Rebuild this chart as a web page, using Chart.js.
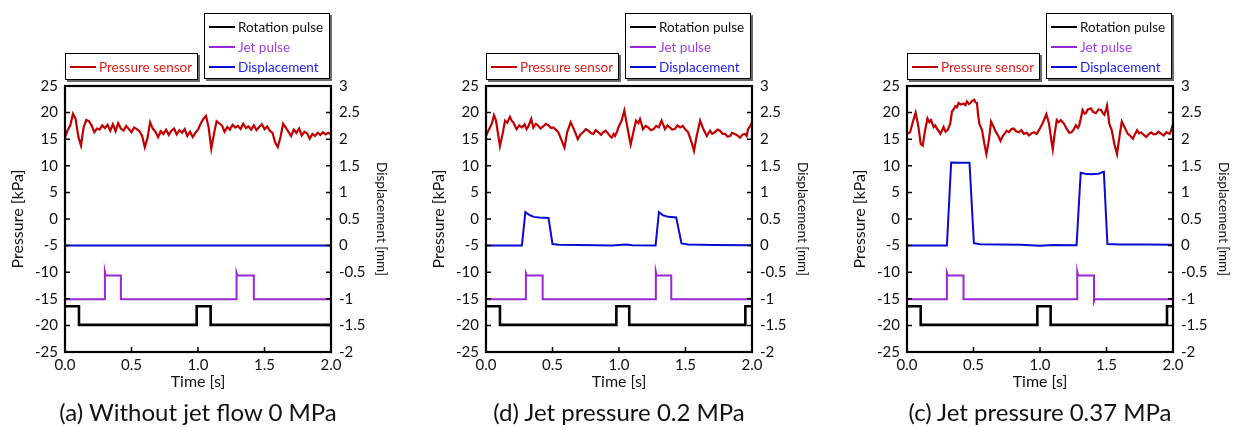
<!DOCTYPE html>
<html>
<head>
<meta charset="utf-8">
<script src="https://cdn.jsdelivr.net/npm/chart.js@4.4.1/dist/chart.umd.min.js"></script>
<style>
body { margin: 0; width: 1234px; height: 428px; overflow: hidden; background: #fff; font-family: Lato, sans-serif; position: relative; }
.panel { position: absolute; top: 0; width: 411px; height: 428px; }
.panel canvas { position: absolute; left: 0; top: 0; }
.lg { position: absolute; box-sizing: border-box; border: 1.5px solid #000; background: #fff; box-shadow: 2px 2px 0 #6a6a6a; font-size: 13.5px; }
.row { position: absolute; left: 0; height: 20px; line-height: 20px; white-space: nowrap; }
.row i { position: absolute; left: 4px; top: 9px; width: 26px; height: 2px; }
.row span { position: absolute; left: 33px; }
.cap { position: absolute; top: 397px; left: 18px; width: 360px; text-align: center; font-size: 24px; line-height: 29px; color: #111; white-space: nowrap; }
</style>
</head>
<body>

<div class="panel" style="left:0px">
  <canvas id="cA" width="411" height="428"></canvas>
  <div class="lg" style="left:65px;top:53px;width:133px;height:27px">
    <div class="row" style="top:2.5px"><i style="background:#c00000"></i><span style="color:#dd1c1c">Pressure sensor</span></div>
  </div>
  <div class="lg" style="left:204px;top:13px;width:126px;height:66px">
    <div class="row" style="top:2.5px"><i style="background:#000"></i><span style="color:#111">Rotation pulse</span></div>
    <div class="row" style="top:22.5px"><i style="background:#9b26d6"></i><span style="color:#a43ee0">Jet pulse</span></div>
    <div class="row" style="top:42.5px"><i style="background:#0a0ad2"></i><span style="color:#1e1ee8">Displacement</span></div>
  </div>
  <div class="cap">(a) Without jet flow 0 MPa</div>
</div>

<div class="panel" style="left:421px">
  <canvas id="cB" width="411" height="428"></canvas>
  <div class="lg" style="left:65px;top:53px;width:133px;height:27px">
    <div class="row" style="top:2.5px"><i style="background:#c00000"></i><span style="color:#dd1c1c">Pressure sensor</span></div>
  </div>
  <div class="lg" style="left:204px;top:13px;width:126px;height:66px">
    <div class="row" style="top:2.5px"><i style="background:#000"></i><span style="color:#111">Rotation pulse</span></div>
    <div class="row" style="top:22.5px"><i style="background:#9b26d6"></i><span style="color:#a43ee0">Jet pulse</span></div>
    <div class="row" style="top:42.5px"><i style="background:#0a0ad2"></i><span style="color:#1e1ee8">Displacement</span></div>
  </div>
  <div class="cap">(d) Jet pressure 0.2 MPa</div>
</div>

<div class="panel" style="left:842px">
  <canvas id="cC" width="411" height="428"></canvas>
  <div class="lg" style="left:65px;top:53px;width:133px;height:27px">
    <div class="row" style="top:2.5px"><i style="background:#c00000"></i><span style="color:#dd1c1c">Pressure sensor</span></div>
  </div>
  <div class="lg" style="left:204px;top:13px;width:126px;height:66px">
    <div class="row" style="top:2.5px"><i style="background:#000"></i><span style="color:#111">Rotation pulse</span></div>
    <div class="row" style="top:22.5px"><i style="background:#9b26d6"></i><span style="color:#a43ee0">Jet pulse</span></div>
    <div class="row" style="top:42.5px"><i style="background:#0a0ad2"></i><span style="color:#1e1ee8">Displacement</span></div>
  </div>
  <div class="cap">(c) Jet pressure 0.37 MPa</div>
</div>

<script>
// axis ranges / ticks
const timeTicks = [0, 0.5, 1.0, 1.5, 2.0];
const pressureTicks = [-25, -20, -15, -10, -5, 0, 5, 10, 15, 20, 25];
const dispTicks = [-2, -1.5, -1, -0.5, 0, 0.5, 1, 1.5, 2, 2.5, 3];

// pressure sensor [time s, kPa]
const pressureA = [[0,15.3],[0.02,16.7],[0.04,17.6],[0.06,19.8],[0.08,18.8],[0.10,15.5],[0.12,13.8],[0.14,17.2],[0.16,18.6],[0.18,18.4],[0.20,17.6],[0.22,16.3],[0.24,17.0],[0.26,16.8],[0.28,17.6],[0.30,17.1],[0.32,17.7],[0.34,16.6],[0.36,17.8],[0.38,16.5],[0.40,18.0],[0.42,17.0],[0.44,16.6],[0.46,17.5],[0.48,16.9],[0.50,16.3],[0.52,17.2],[0.54,16.9],[0.56,16.5],[0.58,15.6],[0.60,13.5],[0.62,15.2],[0.64,18.2],[0.66,17.0],[0.68,16.4],[0.70,15.4],[0.72,16.5],[0.74,16.0],[0.76,16.8],[0.78,15.8],[0.80,16.6],[0.82,17.0],[0.84,15.9],[0.86,16.7],[0.88,16.2],[0.90,16.9],[0.92,15.6],[0.94,16.4],[0.96,15.4],[0.98,16.2],[1.00,16.8],[1.02,17.9],[1.04,18.8],[1.06,19.4],[1.08,17.2],[1.10,13.2],[1.12,16.0],[1.14,18.4],[1.16,18.0],[1.18,17.6],[1.20,16.4],[1.22,17.3],[1.24,16.8],[1.26,17.7],[1.28,17.2],[1.30,17.5],[1.32,16.9],[1.34,17.9],[1.36,17.1],[1.38,17.4],[1.40,16.8],[1.42,17.6],[1.44,16.7],[1.46,17.3],[1.48,17.8],[1.50,16.9],[1.52,17.4],[1.54,16.6],[1.56,16.2],[1.58,14.4],[1.60,13.5],[1.62,15.4],[1.64,17.9],[1.66,17.2],[1.68,16.4],[1.70,15.6],[1.72,16.8],[1.74,16.2],[1.76,17.0],[1.78,15.7],[1.80,16.4],[1.82,16.1],[1.84,15.1],[1.86,16.0],[1.88,15.6],[1.90,16.2],[1.92,15.8],[1.94,16.3],[1.96,15.9],[1.98,16.2],[2.00,15.9]];
const pressureB = [[0,15.6],[0.015,16.5],[0.03,17.2],[0.045,18.0],[0.06,19.5],[0.075,18.5],[0.093,15.6],[0.105,13.7],[0.125,16.0],[0.143,18.5],[0.16,18.1],[0.18,19.2],[0.195,18.4],[0.205,18.2],[0.22,17.4],[0.23,16.9],[0.25,17.6],[0.27,17.2],[0.29,17.8],[0.305,16.9],[0.32,17.5],[0.34,18.8],[0.356,17.2],[0.375,17.9],[0.39,17.6],[0.41,17.0],[0.43,17.4],[0.45,17.9],[0.47,17.6],[0.49,17.1],[0.506,17.2],[0.525,16.8],[0.544,16.3],[0.57,14.7],[0.59,13.4],[0.61,16.3],[0.637,18.2],[0.66,16.9],[0.675,16.0],[0.69,15.0],[0.71,15.9],[0.73,16.3],[0.75,16.9],[0.77,16.6],[0.79,16.1],[0.807,16.0],[0.825,16.7],[0.845,16.3],[0.865,15.8],[0.88,16.3],[0.90,16.6],[0.92,16.0],[0.935,15.5],[0.945,15.3],[0.96,16.0],[0.97,15.6],[0.985,16.4],[0.995,17.2],[1.02,18.5],[1.04,20.4],[1.056,18.2],[1.075,15.6],[1.088,14.0],[1.108,16.3],[1.128,18.5],[1.145,18.0],[1.158,18.8],[1.17,17.8],[1.18,16.9],[1.20,17.5],[1.22,17.2],[1.24,16.7],[1.26,16.9],[1.28,17.5],[1.30,17.2],[1.32,18.5],[1.346,16.9],[1.365,17.6],[1.383,17.2],[1.40,16.8],[1.42,16.9],[1.44,17.6],[1.46,17.2],[1.48,17.5],[1.496,16.9],[1.52,16.3],[1.546,14.4],[1.564,12.8],[1.584,15.6],[1.61,18.5],[1.634,16.9],[1.66,15.6],[1.684,16.6],[1.70,16.0],[1.72,16.3],[1.74,16.8],[1.76,16.6],[1.78,16.0],[1.797,16.0],[1.815,15.5],[1.835,15.6],[1.85,16.2],[1.87,16.0],[1.89,15.7],[1.91,15.3],[1.93,15.9],[1.947,16.0],[1.96,15.6],[1.97,16.9],[1.985,17.4],[2.0,18.2]];
const pressureC = [[0,16.0],[0.023,16.3],[0.048,18.6],[0.065,20.0],[0.086,17.3],[0.103,14.1],[0.118,13.8],[0.136,16.7],[0.154,18.9],[0.168,18.2],[0.18,18.6],[0.2,17.3],[0.212,17.6],[0.224,17.0],[0.24,16.5],[0.25,16.0],[0.262,16.6],[0.275,17.3],[0.29,16.4],[0.305,16.7],[0.325,17.9],[0.338,20.2],[0.35,20.6],[0.363,21.2],[0.375,21.0],[0.388,21.8],[0.405,21.5],[0.426,21.7],[0.44,21.4],[0.45,22.1],[0.465,21.6],[0.476,21.8],[0.49,22.2],[0.506,22.4],[0.515,21.9],[0.526,21.8],[0.535,19.5],[0.544,17.9],[0.564,16.7],[0.582,14.1],[0.597,12.2],[0.615,14.7],[0.632,18.3],[0.652,17.3],[0.665,16.5],[0.678,16.0],[0.69,15.4],[0.703,14.7],[0.72,15.6],[0.733,16.0],[0.75,16.6],[0.766,16.3],[0.785,16.9],[0.803,17.0],[0.82,16.5],[0.841,16.3],[0.86,16.7],[0.879,16.0],[0.9,16.2],[0.917,15.7],[0.935,16.1],[0.955,16.3],[0.975,16.0],[0.992,16.7],[1.005,17.3],[1.018,17.9],[1.035,18.9],[1.048,19.7],[1.068,17.9],[1.086,14.7],[1.096,13.1],[1.11,16.0],[1.126,18.6],[1.14,18.2],[1.156,18.6],[1.181,17.9],[1.195,17.2],[1.207,16.7],[1.22,16.2],[1.237,16.3],[1.255,16.9],[1.27,17.6],[1.285,17.1],[1.295,17.6],[1.31,19.2],[1.32,20.5],[1.335,19.8],[1.345,19.9],[1.36,20.6],[1.383,20.8],[1.40,20.1],[1.42,19.9],[1.44,20.6],[1.458,20.5],[1.47,20.0],[1.484,19.6],[1.495,20.4],[1.504,21.3],[1.512,19.8],[1.521,17.9],[1.539,16.7],[1.559,14.1],[1.579,12.2],[1.597,15.4],[1.615,18.3],[1.635,17.3],[1.66,16.0],[1.68,15.6],[1.698,15.1],[1.715,16.0],[1.73,16.7],[1.745,16.1],[1.76,16.3],[1.78,15.8],[1.8,15.4],[1.82,16.0],[1.836,16.3],[1.855,15.9],[1.874,16.0],[1.89,16.4],[1.912,16.0],[1.93,15.7],[1.95,16.3],[1.975,16.0],[1.985,16.6],[2.0,17.9]];

// displacement [time s, mm]
const dispA = [[0,0],[0.5,0.003],[1.0,0],[1.5,0.002],[2.0,0]];
const dispB = [[0,0],[0.27,0],[0.296,0.63],[0.33,0.57],[0.36,0.54],[0.40,0.53],[0.47,0.52],[0.50,0.03],[0.55,0.015],[0.7,0.01],[0.95,0],[1.0,0.01],[1.05,0.02],[1.1,0.005],[1.275,0],[1.30,0.63],[1.33,0.57],[1.37,0.54],[1.43,0.53],[1.47,0.04],[1.52,0.02],[1.7,0.01],[2.0,0.005]];
const dispC = [[0,0],[0.30,0],[0.332,1.56],[0.40,1.555],[0.47,1.555],[0.503,0.044],[0.55,0.025],[0.7,0.02],[0.85,0.015],[1.0,-0.005],[1.1,0.01],[1.275,0.005],[1.306,1.37],[1.34,1.35],[1.38,1.34],[1.44,1.35],[1.48,1.39],[1.507,0.03],[1.6,0.02],[1.8,0.02],[2.0,0.015]];

// rotation pulse [time s, level on kPa axis]
const rotationA = [[0,-16.4],[0.105,-16.4],[0.105,-19.9],[0.99,-19.9],[0.99,-16.4],[1.095,-16.4],[1.095,-19.9],[2.0,-19.9]];
const rotationB = [[0,-16.4],[0.105,-16.4],[0.105,-19.9],[0.98,-19.9],[0.98,-16.4],[1.077,-16.4],[1.077,-19.9],[1.95,-19.9],[1.95,-16.4],[2.0,-16.4]];
const rotationC = [[0,-16.4],[0.103,-16.4],[0.103,-19.9],[0.98,-19.9],[0.98,-16.4],[1.08,-16.4],[1.08,-19.9],[1.955,-19.9],[1.955,-16.4],[2.0,-16.4]];

// jet pulse [time s, level on kPa axis]
const jetA = [[0,-15.1],[0.30,-15.1],[0.30,-9.9],[0.306,-10.6],[0.42,-10.6],[0.42,-15.1],[1.29,-15.1],[1.29,-10.1],[1.296,-10.6],[1.42,-10.6],[1.42,-15.1],[2.0,-15.1]];
const jetB = [[0,-15.1],[0.30,-15.1],[0.30,-10.2],[0.306,-10.6],[0.426,-10.6],[0.426,-15.1],[1.277,-15.1],[1.277,-9.9],[1.283,-10.6],[1.393,-10.6],[1.393,-15.1],[2.0,-15.1]];
const jetC = [[0,-15.1],[0.30,-15.1],[0.30,-10.1],[0.306,-10.6],[0.425,-10.6],[0.425,-15.1],[1.28,-15.1],[1.28,-9.9],[1.286,-10.6],[1.406,-10.6],[1.406,-15.5],[1.412,-15.1],[2.0,-15.1]];

const pts = arr => arr.map(p => ({ x: p[0], y: p[1] }));

// inward tick marks + plot frame
const frameTicks = {
  id: 'frameTicks',
  afterDatasetsDraw(chart) {
    const { ctx, chartArea: a, scales } = chart;
    ctx.save();
    ctx.strokeStyle = '#000';
    ctx.lineWidth = 1.5;
    ctx.beginPath();
    scales.y.ticks.forEach(t => { const py = scales.y.getPixelForValue(t.value); ctx.moveTo(a.left, py); ctx.lineTo(a.left + 5, py); });
    scales.y1.ticks.forEach(t => { const py = scales.y1.getPixelForValue(t.value); ctx.moveTo(a.right, py); ctx.lineTo(a.right - 5, py); });
    scales.x.ticks.forEach(t => { const px = scales.x.getPixelForValue(t.value); ctx.moveTo(px, a.bottom); ctx.lineTo(px, a.bottom - 5); });
    ctx.stroke();
    ctx.lineWidth = 2.2;
    ctx.strokeRect(a.left, a.top, a.right - a.left, a.bottom - a.top);
    ctx.restore();
  }
};

const tickFont = { family: 'Lato', size: 15 };
const noGrid = { display: false, drawTicks: false };

function makeChart(id, pressure, disp, rotation, jet) {
  return new Chart(document.getElementById(id).getContext('2d'), {
    type: 'line',
    data: {
      datasets: [
        { label: 'Rotation pulse', data: pts(rotation), borderColor: '#000', borderWidth: 2.6, yAxisID: 'y' },
        { label: 'Jet pulse', data: pts(jet), borderColor: '#9b26d6', borderWidth: 2, yAxisID: 'y' },
        { label: 'Displacement', data: pts(disp), borderColor: '#0a0ad2', borderWidth: 2, yAxisID: 'y1' },
        { label: 'Pressure sensor', data: pts(pressure), borderColor: '#c00000', borderWidth: 2.2, yAxisID: 'y' }
      ]
    },
    options: {
      responsive: false,
      animation: false,
      devicePixelRatio: 1,
      layout: { padding: { top: 86, bottom: 36, left: 0, right: 0 } },
      elements: { point: { radius: 0 }, line: { tension: 0 } },
      plugins: { legend: { display: false }, tooltip: { enabled: false } },
      scales: {
        x: {
          type: 'linear', min: 0, max: 2,
          afterFit: s => { s.height = 40; },
          afterBuildTicks: s => { s.ticks = timeTicks.map(v => ({ value: v })); },
          grid: noGrid, border: { display: false },
          ticks: { font: tickFont, color: '#111', padding: 4, maxRotation: 0, callback: v => v.toFixed(1) },
          title: { display: true, text: 'Time [s]', font: { family: 'Lato', size: 16 }, color: '#111', padding: { top: 0, bottom: 1 } }
        },
        y: {
          position: 'left', min: -25, max: 25,
          afterFit: s => { s.width = 65; },
          afterBuildTicks: s => { s.ticks = pressureTicks.map(v => ({ value: v })); },
          grid: noGrid, border: { display: false },
          ticks: { font: tickFont, color: '#111', padding: 7, callback: v => String(v) },
          title: { display: true, text: 'Pressure [kPa]', font: { family: 'Lato', size: 16 }, color: '#111', padding: { top: 8, bottom: 0 } }
        },
        y1: {
          position: 'right', min: -2, max: 3,
          afterFit: s => { s.width = 80; },
          afterBuildTicks: s => { s.ticks = dispTicks.map(v => ({ value: v })); },
          grid: noGrid, border: { display: false },
          ticks: { font: tickFont, color: '#111', padding: 8, callback: v => String(v) },
          title: { display: true, text: 'Displacement [mm]', font: { family: 'Lato', size: 13.5 }, color: '#111', padding: { top: 22, bottom: 0 } }
        }
      }
    },
    plugins: [frameTicks]
  });
}

makeChart('cA', pressureA, dispA, rotationA, jetA);
makeChart('cB', pressureB, dispB, rotationB, jetB);
makeChart('cC', pressureC, dispC, rotationC, jetC);
</script>
</body>
</html>
